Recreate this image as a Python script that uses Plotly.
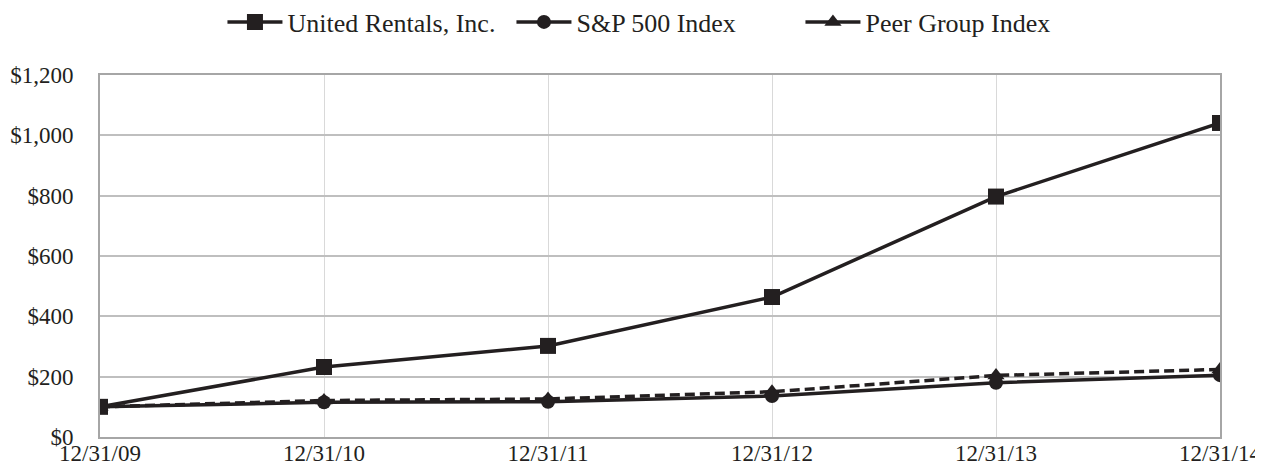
import plotly.graph_objects as go

dates = ["12/31/09", "12/31/10", "12/31/11", "12/31/12", "12/31/13", "12/31/14"]
united_rentals = [100, 232, 302, 464, 797, 1041]
sp500 = [100, 115, 117, 136, 180, 205]
peer_group = [100, 121, 126, 150, 204, 224]
y_ticks = [0, 200, 400, 600, 800, 1000, 1200]
y_tick_labels = ["$0", "$200", "$400", "$600", "$800", "$1,000", "$1,200"]

series = [
    ("United Rentals, Inc.", united_rentals, "square", 16, "solid"),
    ("S&P 500 Index", sp500, "circle", 14, "solid"),
    ("Peer Group Index", peer_group, "triangle-up", 15, "10px,5px"),
]

FONT = "Liberation Serif"
INK = "#231f20"

fig = go.Figure()
# data lines (peer group drawn first so solid lines sit on top)
for name, vals, sym, size, dash in reversed(series):
    fig.add_trace(go.Scatter(x=dates, y=vals, name=name, mode="lines+markers", showlegend=False,
                             legendgroup=name,
                             line=dict(color=INK, width=3.5, dash=dash),
                             marker=dict(symbol=sym, size=size, color=INK)))
# legend entries (solid line with marker, as in the reference key)
for rank, (name, vals, sym, size, dash) in enumerate(series):
    fig.add_trace(go.Scatter(x=[None], y=[None], name=name, mode="lines+markers",
                             legendgroup=name, legendrank=rank + 1,
                             line=dict(color=INK, width=3.5),
                             marker=dict(symbol=sym, size=size, color=INK)))

# page body has an 8px margin; figure is sized so the page stays 1263x465
W, H = 1255, 457
ML, MR, MT, MB = 92, 43, 67, 28
fig.update_layout(
    width=W, height=H,
    margin=dict(l=ML, r=MR, t=MT, b=MB),
    paper_bgcolor="white", plot_bgcolor="white",
    font=dict(family=FONT, size=23, color=INK),
    showlegend=True,
    legend=dict(orientation="h", x=0.5163, xanchor="center", xref="container",
                y=1 - 14 / H, yanchor="middle", yref="container",
                entrywidth=219, entrywidthmode="pixels",
                itemwidth=55, font=dict(size=26, color=INK), traceorder="normal"),
    xaxis=dict(type="category", range=[0, 5], showgrid=True, gridcolor="#d9d9d9", gridwidth=1,
               showline=True, linecolor="#a6a6a6", linewidth=2, mirror=True,
               ticks="", tickfont=dict(size=23), zeroline=False, automargin=False,
               ticklabelstandoff=-6),
    yaxis=dict(range=[0, 1200], tickmode="array", tickvals=y_ticks, ticktext=y_tick_labels,
               showgrid=True, gridcolor="#bfbfbf", gridwidth=1.5,
               showline=True, linecolor="#a6a6a6", linewidth=2, mirror=True,
               ticks="", tickfont=dict(size=23), zeroline=False, automargin=False,
               ticklabelstandoff=20),
)

fig.write_html("out.html")
